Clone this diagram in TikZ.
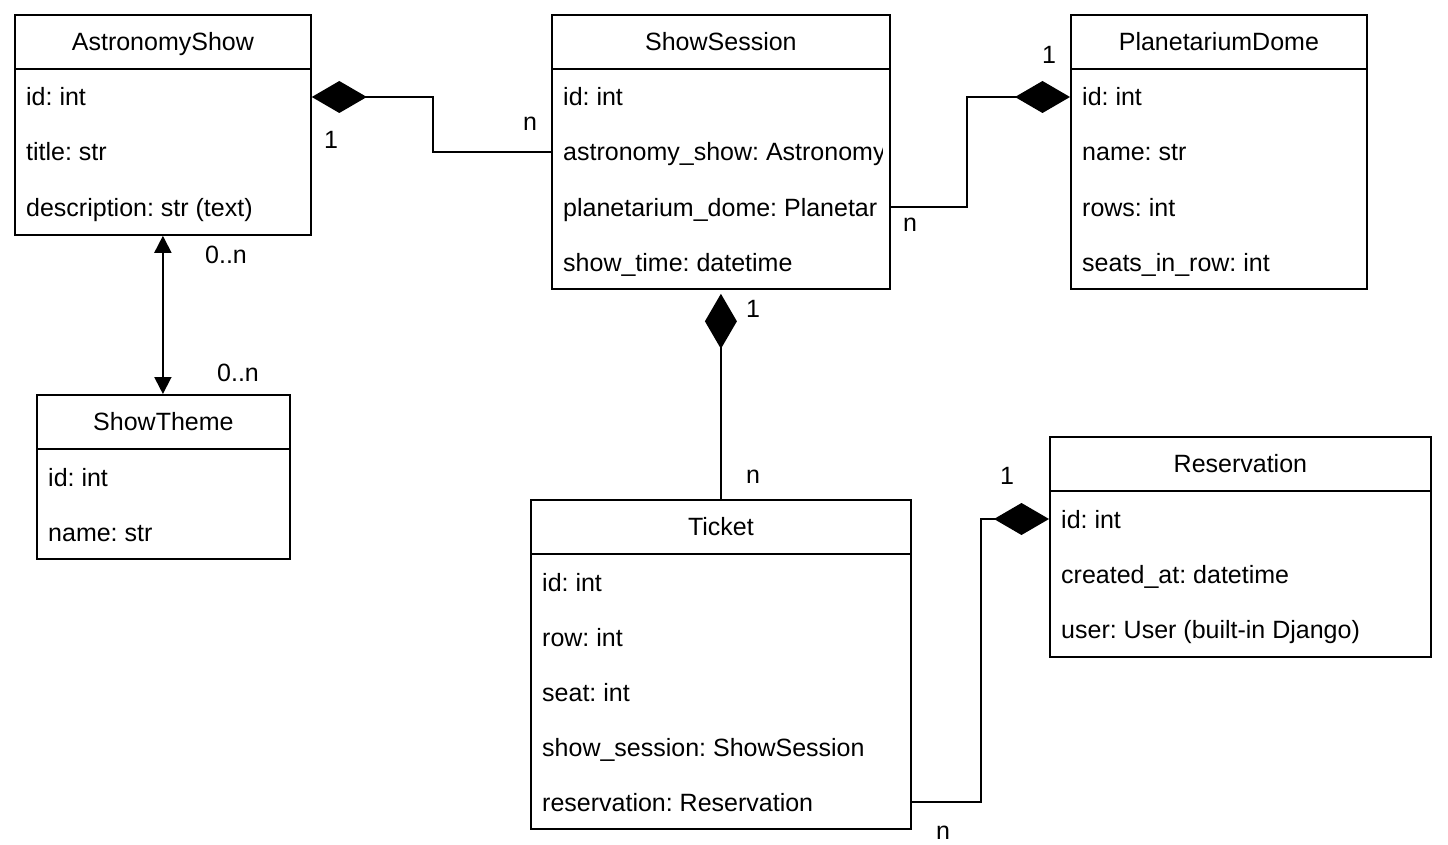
\documentclass[tikz,border=0pt]{standalone}
\usepackage{fontspec}
\setmainfont{Liberation Sans}
\usetikzlibrary{arrows.meta,calc}
\begin{document}
\begin{tikzpicture}[x=1pt,y=-1pt,
  lw/.style={line width=1.8pt},
  cls/.style={draw, lw, anchor=north west, inner sep=0pt},
  txt/.style={inner sep=0pt, text height=18pt, text depth=0pt, font=\fontsize{25}{30}\selectfont\frenchspacing},
  hdr/.style={txt, anchor=center},
  attr/.style={txt, anchor=west},
  mult/.style={inner sep=0pt, font=\fontsize{25}{30}\selectfont},
  conn/.style={lw, line join=miter},
  comp/.style={conn, {Diamond[length=55pt,width=32pt]}-},
  compend/.style={conn, -{Diamond[length=55pt,width=32pt]}},
  both/.style={conn, {Triangle[length=17pt,width=17pt]}-{Triangle[length=17pt,width=17pt]}},
]
\useasboundingbox (0,0) rectangle (1448,845);

% AstronomyShow
\node[cls, minimum width=296pt, minimum height=220pt] (as) at (14,14) {};
\draw[lw] ($(as.north west)+(0,55)$) -- ($(as.north east)+(0,55)$);
\node[hdr] (as-h) at ($(as.north)+(0,27.5)$) {AstronomyShow};
\node[attr] (as-1) at ($(as.north west)+(12,83)$) {id: int};
\node[attr] (as-2) at ($(as.north west)+(12,138)$) {title: str};
\node[attr] (as-3) at ($(as.north west)+(12,193)$) {description: str (text)};

% ShowSession
\node[cls, minimum width=338pt, minimum height=274pt] (ss) at (551,14) {};
\draw[lw] ($(ss.north west)+(0,55)$) -- ($(ss.north east)+(0,55)$);
\node[hdr] (ss-h) at ($(ss.north)+(0,27.5)$) {ShowSession};
\begin{scope}
\clip (ss.north west) rectangle ($(ss.south east)+(-8,0)$);
\node[attr] (ss-1) at ($(ss.north west)+(12,83)$) {id: int};
\node[attr] (ss-2) at ($(ss.north west)+(12,138)$) {astronomy\_show: Astronomy};
\node[attr] (ss-3) at ($(ss.north west)+(12,193)$) {planetarium\_dome: Planetar};
\node[attr] (ss-4) at ($(ss.north west)+(12,248)$) {show\_time: datetime};
\end{scope}

% PlanetariumDome
\node[cls, minimum width=296pt, minimum height=274pt] (pd) at (1070,14) {};
\draw[lw] ($(pd.north west)+(0,55)$) -- ($(pd.north east)+(0,55)$);
\node[hdr] (pd-h) at ($(pd.north)+(0,27.5)$) {PlanetariumDome};
\node[attr] (pd-1) at ($(pd.north west)+(12,83)$) {id: int};
\node[attr] (pd-2) at ($(pd.north west)+(12,138)$) {name: str};
\node[attr] (pd-3) at ($(pd.north west)+(12,193)$) {rows: int};
\node[attr] (pd-4) at ($(pd.north west)+(12,248)$) {seats\_in\_row: int};

% ShowTheme
\node[cls, minimum width=253pt, minimum height=164pt] (st) at (36,394) {};
\draw[lw] ($(st.north west)+(0,55)$) -- ($(st.north east)+(0,55)$);
\node[hdr] (st-h) at ($(st.north)+(0,27.5)$) {ShowTheme};
\node[attr] (st-1) at ($(st.north west)+(12,83)$) {id: int};
\node[attr] (st-2) at ($(st.north west)+(12,138)$) {name: str};

% Ticket
\node[cls, minimum width=380pt, minimum height=329pt] (tk) at (530,499) {};
\draw[lw] ($(tk.north west)+(0,55)$) -- ($(tk.north east)+(0,55)$);
\node[hdr] (tk-h) at ($(tk.north)+(0,27.5)$) {Ticket};
\node[attr] (tk-1) at ($(tk.north west)+(12,83)$) {id: int};
\node[attr] (tk-2) at ($(tk.north west)+(12,138)$) {row: int};
\node[attr] (tk-3) at ($(tk.north west)+(12,193)$) {seat: int};
\node[attr] (tk-4) at ($(tk.north west)+(12,248)$) {show\_session: ShowSession};
\node[attr] (tk-5) at ($(tk.north west)+(12,303)$) {reservation: Reservation};

% Reservation
\node[cls, minimum width=381pt, minimum height=220pt] (rs) at (1049,436) {};
\draw[lw] ($(rs.north west)+(0,55)$) -- ($(rs.north east)+(0,55)$);
\node[hdr] (rs-h) at ($(rs.north)+(0,27.5)$) {Reservation};
\node[attr] (rs-1) at ($(rs.north west)+(12,83)$) {id: int};
\node[attr] (rs-2) at ($(rs.north west)+(12,138)$) {created\_at: datetime};
\node[attr] (rs-3) at ($(rs.north west)+(12,193)$) {user: User (built-in Django)};

% Connectors
\draw[comp] (as-1 -| as.east) -- ++(121,0) |- (ss-2 -| ss.west);
\draw[compend] (ss-3 -| ss.east) -- ++(76,0) |- (pd-1 -| pd.west);
\draw[comp] ($(ss.south)+(0,4)$) -- (tk.north);
\draw[compend] (tk-5 -| tk.east) -- ++(69,0) |- (rs-1 -| rs.west);
\draw[both] (as.south) -- (as.south |- st.north);

% Multiplicities
\node[mult] (m1) at (331,140) {1};
\node[mult] (m2) at (530,124) {n};
\node[mult] (m3) at (1049,55) {1};
\node[mult] (m4) at (910,225) {n};
\node[mult] (m5) at (753,309) {1};
\node[mult] (m6) at (753,477) {n};
\node[mult] (m7) at (1007,476) {1};
\node[mult] (m8) at (943,833) {n};
\node[mult] (m9) at (226,255) {0..n};
\node[mult] (m10) at (238,373) {0..n};
\end{tikzpicture}
\end{document}
